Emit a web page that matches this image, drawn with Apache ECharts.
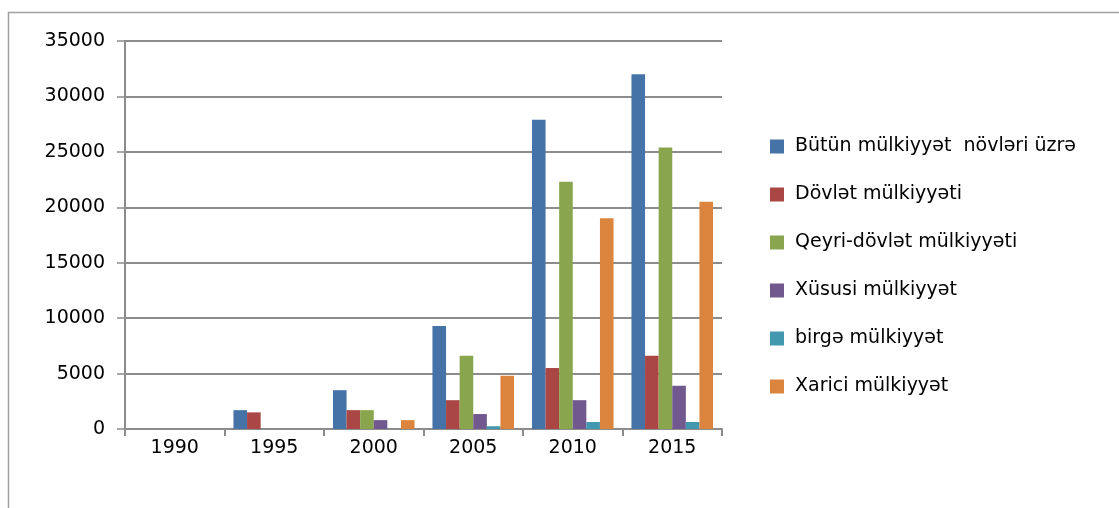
<!DOCTYPE html>
<html>
<head>
<meta charset="utf-8">
<script src="https://cdn.jsdelivr.net/npm/echarts@6/dist/echarts.min.js"></script>
<style>html,body{margin:0;padding:0;background:#fff;}#c{width:1119px;height:508px;}</style>
</head>
<body>
<div id="c"></div>
<script>
const categories = ['1990', '1995', '2000', '2005', '2010', '2015'];
const seriesNames = ['Bütün mülkiyyət  növləri üzrə', 'Dövlət mülkiyyəti', 'Qeyri-dövlət mülkiyyəti', 'Xüsusi mülkiyyət', 'birgə mülkiyyət', 'Xarici mülkiyyət'];
const butun   = [0, 1700, 3500, 9300, 27900, 32000];
const dovlet  = [0, 1500, 1700, 2600, 5500, 6600];
const qeyri   = [0, 0, 1700, 6600, 22300, 25400];
const xususi  = [0, 0, 800, 1350, 2600, 3900];
const birge   = [0, 0, 0, 250, 630, 630];
const xarici  = [0, 0, 800, 4800, 19000, 20500];
const yTicks = [0, 5000, 10000, 15000, 20000, 25000, 30000, 35000];
const colors = ['#4572A7', '#AA4643', '#89A54E', '#71588F', '#4198AF', '#DB843D'];

const values = [butun, dovlet, qeyri, xususi, birge, xarici];
const font = 'DejaVu Sans, Verdana, sans-serif';
const chart = echarts.init(document.getElementById('c'));
chart.setOption({
  animation: false,
  color: colors,
  graphic: [{
    type: 'rect', shape: { x: 8.5, y: 12.5, width: 1200, height: 600 },
    style: { fill: 'none', stroke: '#a0a0a0', lineWidth: 1.5 }, silent: true
  }],
  grid: { left: 125, right: 397, top: 41, bottom: 79 },
  legend: {
    orient: 'vertical', left: 765, top: 132, itemGap: 29,
    itemWidth: 14, itemHeight: 14, icon: 'rect',
    textStyle: { fontFamily: font, fontSize: 19, color: '#000', padding: [0, 0, 0, 6] },
    data: seriesNames
  },
  xAxis: {
    type: 'category', data: categories,
    axisLine: { lineStyle: { color: '#8c8c8c', width: 2 } },
    axisTick: { show: true, length: 7, lineStyle: { color: '#8c8c8c', width: 2 } },
    axisLabel: { fontFamily: font, fontSize: 19, color: '#000', margin: 10 }
  },
  yAxis: {
    type: 'value', min: 0, max: 35000, interval: 5000,
    axisLine: { show: true, lineStyle: { color: '#8c8c8c', width: 2 } },
    axisTick: { show: true, length: 8, lineStyle: { color: '#8c8c8c', width: 1.5 } },
    splitLine: { lineStyle: { color: '#8c8c8c', width: 2 } },
    axisLabel: { fontFamily: font, fontSize: 19, color: '#000', margin: 20,
      formatter: v => yTicks.includes(v) ? String(v) : '' }
  },
  series: seriesNames.map((n, i) => ({
    name: n, type: 'bar', data: values[i],
    barGap: '0%', barCategoryGap: '18%'
  }))
});
</script>
</body>
</html>
